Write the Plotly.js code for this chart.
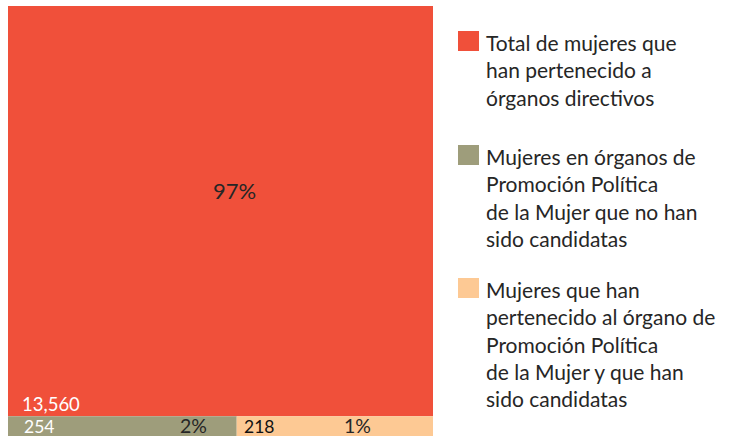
<!DOCTYPE html>
<html>
<head>
<meta charset="utf-8">
<script src="https://cdn.plot.ly/plotly-3.0.1.min.js"></script>
<style>
html,body{margin:0;padding:0;background:#fff;}
#chart{width:730px;height:436px;}
</style>
</head>
<body>
<div id="chart"></div>
<script>
// Data
const categories = [
  'Total de mujeres que<br>han pertenecido a<br>órganos directivos',
  'Mujeres en órganos de<br>Promoción Política<br>de la Mujer que no han<br>sido candidatas',
  'Mujeres que han<br>pertenecido al órgano de<br>Promoción Política<br>de la Mujer y que han<br>sido candidatas'
];
const values = [13560, 254, 218];
const pctLabels = ['97%', '2%', '1%'];
const colors = ['#F0503A', '#9E9D7B', '#FDC994'];

// Layout constants
const stripH = 4.6;      // height of the bottom strip (share of the vertical axis)
const yMax = 100;
const subTotal = values[1] + values[2];

const xs = [subTotal / 2, values[1] / 2, values[1] + values[2] / 2];
const widths = [subTotal, values[1], values[2]];
const bases = [stripH, 0, 0];
const heights = [yMax - stripH, stripH, stripH];

const trace = {
  type: 'bar',
  x: xs,
  y: heights,
  base: bases,
  width: widths,
  marker: {color: colors, line: {width: 0}},
  hoverinfo: 'skip',
  showlegend: false
};

const fmt = v => v.toLocaleString('en-US');
const font = 'Lato, "Open Sans", sans-serif';
const dark = '#262626';

const annotations = [
  {x: subTotal / 2, y: 57, xref: 'x', yref: 'y', text: pctLabels[0], showarrow: false,
   xshift: 14, font: {family: font, size: 22, color: dark}},
  {x: 0, y: stripH, xref: 'x', yref: 'y', text: fmt(values[0]), showarrow: false,
   xanchor: 'left', yanchor: 'bottom', xshift: 13, yshift: 0, borderpad: 0, font: {family: font, size: 18.5, color: '#ffffff'}},
  {x: 0, y: stripH / 2, xref: 'x', yref: 'y', text: fmt(values[1]), showarrow: false,
   xanchor: 'left', yanchor: 'middle', xshift: 15, yshift: 0, borderpad: 0, font: {family: font, size: 17.5, color: '#ffffff'}},
  {x: values[1], y: stripH / 2, xref: 'x', yref: 'y', text: pctLabels[1], showarrow: false,
   xanchor: 'right', yanchor: 'middle', xshift: -29, yshift: 1, borderpad: 0, font: {family: font, size: 19.5, color: dark}},
  {x: values[1], y: stripH / 2, xref: 'x', yref: 'y', text: fmt(values[2]), showarrow: false,
   xanchor: 'left', yanchor: 'middle', xshift: 6, yshift: 0, borderpad: 0, font: {family: font, size: 17.5, color: '#111111'}},
  {x: subTotal, y: stripH / 2, xref: 'x', yref: 'y', text: pctLabels[2], showarrow: false,
   xanchor: 'right', yanchor: 'middle', xshift: -61, yshift: 1, borderpad: 0, font: {family: font, size: 19.5, color: dark}}
];

// Legend (manual)
const legendTops = [31, 145, 278];
const shapes = [];
legendTops.forEach((top, i) => {
  shapes.push({type: 'rect', xref: 'paper', yref: 'paper',
    x0: (458 - 8) / 425, x1: (479 - 8) / 425,
    y0: (436 - top - 20) / 430, y1: (436 - top) / 430,
    fillcolor: colors[i], line: {width: 0}});
  annotations.push({xref: 'paper', yref: 'paper', x: (484 - 8) / 425, y: (436 - top + 3) / 430,
    xanchor: 'left', yanchor: 'top', align: 'left', showarrow: false,
    text: categories[i], font: {family: font, size: 21, color: dark}});
});

const layout = {
  width: 730, height: 436,
  margin: {l: 8, r: 297, t: 6, b: 0, pad: 0},
  paper_bgcolor: '#ffffff', plot_bgcolor: '#ffffff',
  xaxis: {range: [0, subTotal], visible: false, fixedrange: true},
  yaxis: {range: [0, yMax], visible: false, fixedrange: true},
  showlegend: false,
  annotations: annotations,
  shapes: shapes
};

Plotly.newPlot('chart', [trace], layout, {displayModeBar: false, staticPlot: true});
</script>
</body>
</html>
